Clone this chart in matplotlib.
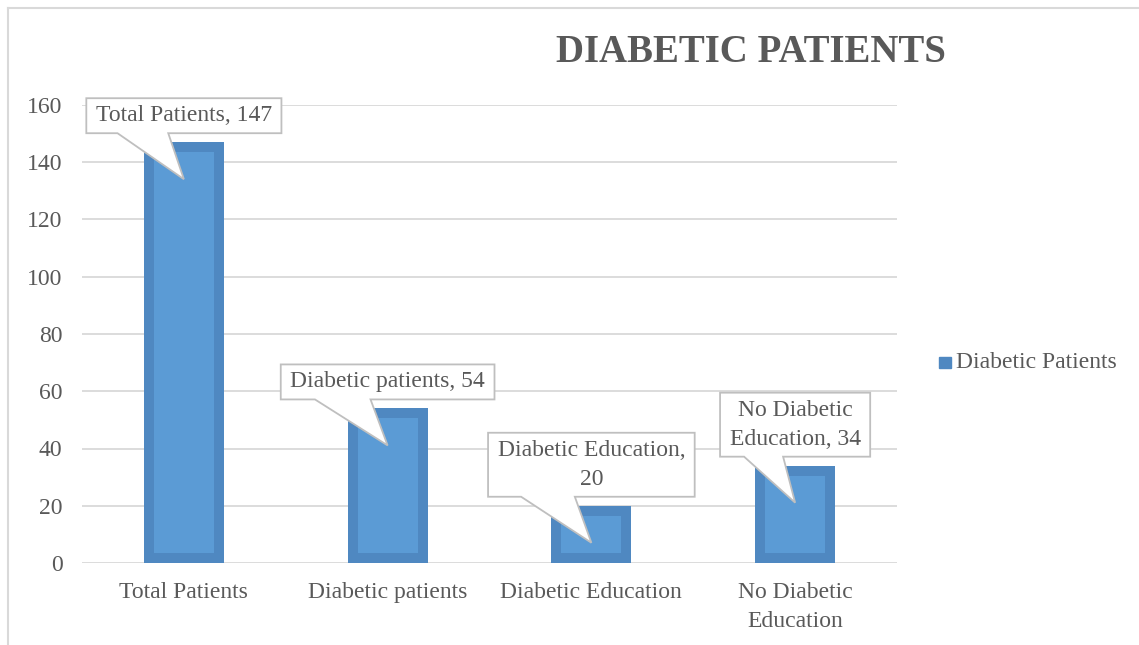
import numpy as np
import matplotlib
matplotlib.use("Agg")
import matplotlib.pyplot as plt
from matplotlib.patches import Polygon, Rectangle
from matplotlib.lines import Line2D

categories = ["Total Patients", "Diabetic patients", "Diabetic Education", "No Diabetic\nEducation"]
values = [147, 54, 20, 34]
callout_labels = ["Total Patients, 147", "Diabetic patients, 54", "Diabetic Education,\n20", "No Diabetic\nEducation, 34"]
series_name = "Diabetic Patients"
yticks = [0, 20, 40, 60, 80, 100, 120, 140, 160]

plt.rcParams['font.family'] = ['Liberation Serif', 'DejaVu Serif']
text_color = '#595959'
grid_color = '#D9D9D9'
outer_color = '#4F88C1'
inner_color = '#5B9BD5'
fs = 17

fig = plt.figure(figsize=(11.39, 6.45), dpi=100)
ax = fig.add_axes([82 / 1139, 1 - 563 / 645, (897 - 82) / 1139, (563 - 105) / 645])

x = np.arange(len(categories))
bar_w = 80 / 204
ax.set_xlim(-0.5, len(categories) - 0.5)
ax.set_ylim(0, 160)

# pixel -> data scales
px_x = ax.bbox.width / (len(categories))
px_y = ax.bbox.height / 160
inset = 10

ax.bar(x, values, width=bar_w, color=outer_color, zorder=2)
inner_h = [v - 2 * inset / px_y for v in values]
ax.bar(x, inner_h, bottom=inset / px_y, width=bar_w - 2 * inset / px_x, color=inner_color, zorder=3)

ax.set_yticks(yticks)
ax.set_xticks(x)
ax.set_xticklabels(categories, fontsize=fs, color=text_color, linespacing=1.5)
ax.tick_params(axis='y', labelsize=fs, labelcolor=text_color, length=0, pad=14)
ax.tick_params(axis='x', length=0, pad=14)
ax.yaxis.grid(True, color=grid_color, linewidth=1.3, zorder=0)
ax.set_axisbelow(True)
for s in ax.spines.values():
    s.set_visible(False)

# title
fig.text(751 / 1139, 1 - 52 / 645, "DIABETIC PATIENTS", fontsize=28, fontweight='bold',
         color=text_color, ha='center', va='center')

# legend
fig.add_artist(Rectangle((939 / 1139, 1 - 368 / 645), 12 / 1139, 11 / 645,
                         transform=fig.transFigure, color=outer_color))
fig.text(956 / 1139, 1 - 362 / 645, series_name, fontsize=fs, color=text_color,
         ha='left', va='center')

# chart frame (top and left edges)
fig.add_artist(Line2D([8 / 1139, 1], [1 - 8 / 645, 1 - 8 / 645], transform=fig.transFigure,
                      color=grid_color, linewidth=1.5))
fig.add_artist(Line2D([8 / 1139, 8 / 1139], [0, 1 - 8 / 645], transform=fig.transFigure,
                      color=grid_color, linewidth=1.5))

# callouts
fig.canvas.draw()
renderer = fig.canvas.get_renderer()
for xi, v, lab in zip(x, values, callout_labels):
    bx, by = ax.transData.transform((xi, v))
    fx, fy = fig.transFigure.inverted().transform((bx, by))
    txt = fig.text(fx, fy, lab, fontsize=fs, color=text_color, ha='center', va='center',
                   linespacing=1.5, zorder=7)
    ext = txt.get_window_extent(renderer)
    w = ext.width + 19
    h = ext.height + 14
    left = bx - w / 2
    bottom = by + 9
    txt.set_position(fig.transFigure.inverted().transform((bx, bottom + h / 2)))
    tip = (bx, by - 37)
    verts = [(left, bottom + h), (left + w, bottom + h), (left + w, bottom),
             (left + 0.42 * w, bottom), tip, (left + 0.16 * w, bottom), (left, bottom)]
    poly = Polygon(verts, closed=True, transform=None, facecolor='white',
                   edgecolor='#BFBFBF', linewidth=1.3, zorder=5)
    fig.add_artist(poly)

fig.savefig("out.png", dpi=100)
